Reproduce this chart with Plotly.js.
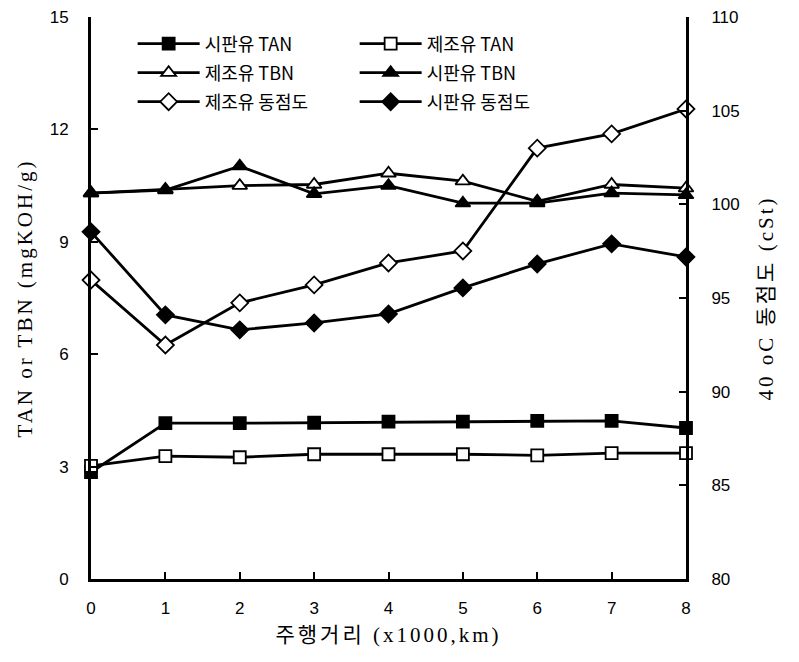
<!DOCTYPE html>
<html><head><meta charset="utf-8">
<script src="https://cdn.plot.ly/plotly-3.0.1.min.js"></script>
<style>body{margin:0;background:#fff}#c{width:799px;height:662px}
.xtitle,.ytitle,.y2title{letter-spacing:3px}</style>
</head><body><div id="c"></div>
<script>
var distance = [0,1,2,3,4,5,6,7,8];
var tanMarket = [2.85,4.16,4.16,4.17,4.2,4.2,4.22,4.22,4.03];
var tanMade = [3.02,3.28,3.25,3.33,3.33,3.33,3.3,3.36,3.36];
var tbnMade = [10.3,10.4,10.5,10.53,10.83,10.62,10.08,10.53,10.43];
var tbnMarket = [10.3,10.38,11.02,10.28,10.5,10.03,10.03,10.3,10.25];
var viscMade = [95.96,92.49,94.74,95.7,96.87,97.51,103.0,103.76,105.09];
var viscMarket = [98.53,94.1,93.3,93.67,94.15,95.54,96.82,97.89,97.19];
var xTicks = ['0','1','2','3','4','5','6','7','8'];

function tr(name, y, sym, filled, axis, size, leg){
  return {x: distance, y: y, name: name, type:'scatter', mode:'lines+markers', yaxis: axis, legend: leg,
    line:{color:'#000', width:2.8},
    marker:{symbol: sym, size: size, color: filled ? '#000' : '#fff', line:{color:'#000', width:1.8}},
    cliponaxis:false};
}
var data = [
  tr('시판유 TAN', tanMarket, 'square', true, 'y', 12, 'legend'),
  tr('제조유 TAN', tanMade, 'square', false, 'y', 12, 'legend'),
  tr('제조유 TBN', tbnMade, 'triangle-up', false, 'y', 13, 'legend2'),
  tr('시판유 TBN', tbnMarket, 'triangle-up', true, 'y', 13, 'legend2'),
  tr('제조유 동점도', viscMade, 'diamond', false, 'y2', 13, 'legend3'),
  tr('시판유 동점도', viscMarket, 'diamond', true, 'y2', 13, 'legend3')
];

var serif = '"Liberation Serif", "Noto Sans CJK KR", serif';
var sans = '"Liberation Sans", Arial, sans-serif';
function leg(yv){
  return {orientation:'h', x:0.07, y:yv, xanchor:'left', yanchor:'middle',
    entrywidth:145, entrywidthmode:'pixels', itemwidth:62, tracegroupgap:0,
    bgcolor:'rgba(0,0,0,0)', font:{family:'"Noto Sans CJK KR", sans-serif', size:18, color:'#000'}};
}
var axisBase = {showline:true, linecolor:'#000', linewidth:3, ticks:'inside', ticklen:7, tickwidth:2, tickcolor:'#000',
    showgrid:false, zeroline:false, tickfont:{family:sans, size:17, color:'#000'}};
var layout = {
  width:799, height:662,
  margin:{l:91, r:113, t:17, b:83},
  paper_bgcolor:'#fff', plot_bgcolor:'#fff',
  showlegend:true,
  legend: leg(0.952), legend2: leg(0.9004), legend3: leg(0.8488),
  xaxis:Object.assign({}, axisBase, {range:[0,8], tickmode:'array', tickvals:distance, ticktext:xTicks,
    ticklabelstandoff:12,
    title:{text:'주행거리 (x1000,km)', font:{family:serif, size:21, color:'#000'}, standoff:10}}),
  yaxis:Object.assign({}, axisBase, {range:[0,15], dtick:3, tick0:0, ticklabelstandoff:16,
    title:{text:'TAN or TBN (mgKOH/g)', font:{family:serif, size:21, color:'#000'}, standoff:12}}),
  yaxis2:Object.assign({}, axisBase, {range:[80,110], dtick:5, tick0:80, overlaying:'y', side:'right',
    ticklabelstandoff:19,
    title:{text:'40 oC 동점도 (cSt)', font:{family:serif, size:21, color:'#000'}, standoff:20}})
};
Plotly.newPlot('c', data, layout, {displayModeBar:false, staticPlot:true});
</script></body></html>
